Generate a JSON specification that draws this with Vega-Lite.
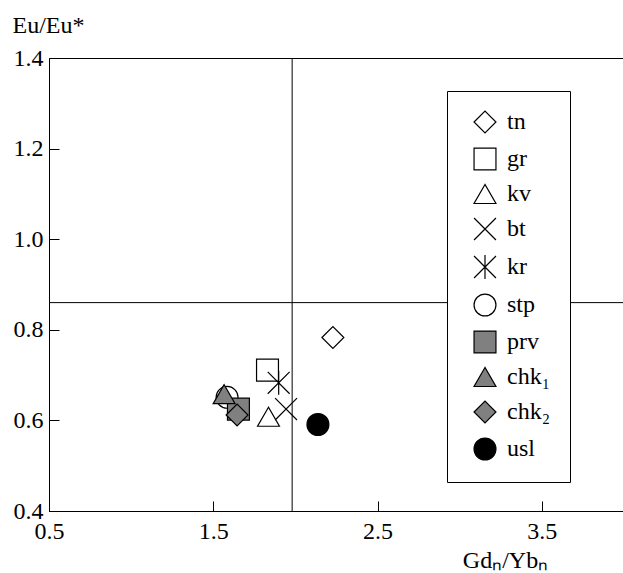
{
  "$schema": "https://vega.github.io/schema/vega-lite/v6.json",
  "autosize": "none",
  "padding": {"left": 49, "top": 58, "right": 0, "bottom": 62},
  "width": 575,
  "height": 453,
  "background": "white",
  "config": {
    "view": {"stroke": "black", "strokeWidth": 1},
    "font": "Liberation Serif",
    "axis": {
      "labelFont": "Liberation Serif",
      "labelFontSize": 24,
      "labelColor": "black",
      "titleFont": "Liberation Serif",
      "titleFontSize": 24,
      "titleFontWeight": "normal",
      "titleColor": "black",
      "domainColor": "black",
      "tickColor": "black",
      "grid": false
    },
    "legend": {
      "labelFont": "Liberation Serif",
      "labelFontSize": 24,
      "labelColor": "black",
      "title": null,
      "orient": "none",
      "legendX": 398,
      "legendY": 33,
      "padding": 19,
      "strokeColor": "black",
      "fillColor": "white",
      "symbolSize": 480,
      "symbolStrokeWidth": 1.2,
      "symbolOffset": 7,
      "labelOffset": 10,
      "rowPadding": 9
    }
  },
  "layer": [
    {
      "data": {"values": [{"xv": 1.98}]},
      "mark": {"type": "rule", "color": "black", "strokeWidth": 1},
      "encoding": {"x": {"field": "xv", "type": "quantitative", "scale": {"domain": [0.5, 4.0], "nice": false, "zero": false}}}
    },
    {
      "data": {"values": [{"yv": 0.86}]},
      "mark": {"type": "rule", "color": "black", "strokeWidth": 1},
      "encoding": {"y": {"field": "yv", "type": "quantitative", "scale": {"domain": [0.4, 1.4], "nice": false, "zero": false}}}
    },
    {
      "data": {"values": [
        {"name": "tn", "gd": 2.228, "eu": 0.783},
        {"name": "gr", "gd": 1.83, "eu": 0.711},
        {"name": "kv", "gd": 1.836, "eu": 0.608},
        {"name": "bt", "gd": 1.943, "eu": 0.625},
        {"name": "kr", "gd": 1.898, "eu": 0.683},
        {"name": "stp", "gd": 1.584, "eu": 0.651},
        {"name": "prv", "gd": 1.653, "eu": 0.625},
        {"name": "chk₁", "gd": 1.566, "eu": 0.658},
        {"name": "chk₂", "gd": 1.645, "eu": 0.612},
        {"name": "usl", "gd": 2.137, "eu": 0.591}
      ]},
      "mark": {"type": "point", "filled": true, "opacity": 1, "size": 480, "strokeWidth": 1.2},
      "encoding": {
        "x": {
          "field": "gd", "type": "quantitative",
          "scale": {"domain": [0.5, 4.0], "nice": false, "zero": false},
          "axis": {
            "values": [0.5, 1.5, 2.5, 3.5],
            "format": ".1f",
            "tickSize": -10,
            "labelPadding": 18,
            "labelFlush": false,
            "labelOverlap": false,
            "title": "Gdₙ/Ybₙ",
            "titleAnchor": "start",
            "titleAlign": "center",
            "titleBaseline": "alphabetic",
            "titleX": 456,
            "titleY": 56
          }
        },
        "y": {
          "field": "eu", "type": "quantitative",
          "scale": {"domain": [0.4, 1.4], "nice": false, "zero": false},
          "axis": {
            "values": [0.4, 0.6, 0.8, 1.0, 1.2, 1.4],
            "format": ".1f",
            "tickSize": -10,
            "labelPadding": 16,
            "labelFlush": false,
            "labelOverlap": false,
            "title": "Eu/Eu*",
            "titleAngle": 0,
            "titleAlign": "left",
            "titleBaseline": "alphabetic",
            "titleX": -37,
            "titleY": -26
          }
        },
        "shape": {
          "field": "name", "type": "nominal",
          "scale": {
            "domain": ["tn", "gr", "kv", "bt", "kr", "stp", "prv", "chk₁", "chk₂", "usl"],
            "range": ["diamond", "square", "triangle-up", "M-1,-1L1,1M-1,1L1,-1", "M-1,-1L1,1M-1,1L1,-1M0,-1.1L0,1.1", "circle", "square", "triangle-up", "diamond", "circle"]
          },
          "legend": {}
        },
        "fill": {
          "field": "name", "type": "nominal",
          "scale": {
            "domain": ["tn", "gr", "kv", "bt", "kr", "stp", "prv", "chk₁", "chk₂", "usl"],
            "range": ["white", "white", "white", "white", "white", "white", "#808080", "#808080", "#808080", "black"]
          },
          "legend": {}
        },
        "stroke": {
          "field": "name", "type": "nominal",
          "scale": {
            "domain": ["tn", "gr", "kv", "bt", "kr", "stp", "prv", "chk₁", "chk₂", "usl"],
            "range": ["black", "black", "black", "black", "black", "black", "black", "black", "black", "black"]
          },
          "legend": {}
        }
      }
    }
  ]
}
